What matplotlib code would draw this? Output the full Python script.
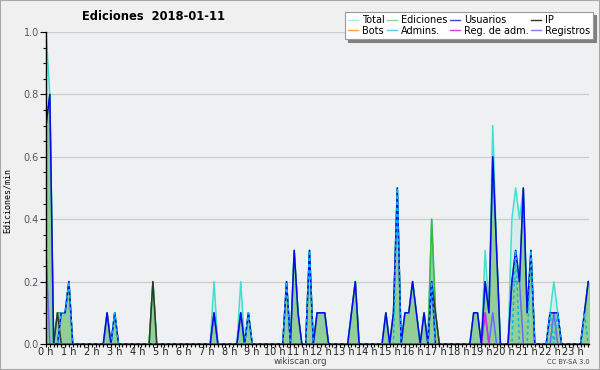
import matplotlib
matplotlib.use("Agg")
import matplotlib.pyplot as plt
import numpy as np
from matplotlib.lines import Line2D
from matplotlib.patches import Rectangle
from matplotlib.ticker import MultipleLocator, FixedLocator

# edits per minute, one value per 10-minute bin (12 values = 2 hours per row)
total = [
    1.0, 0.8, 0, 0.1, 0.1, 0.1, 0.2, 0, 0, 0, 0, 0,
    0, 0, 0, 0, 0.1, 0, 0.1, 0, 0, 0, 0, 0,
    0, 0, 0, 0, 0.2, 0, 0, 0, 0, 0, 0, 0,
    0, 0, 0, 0, 0, 0, 0, 0, 0.2, 0, 0, 0,
    0, 0, 0, 0.2, 0, 0.1, 0, 0, 0, 0, 0, 0,
    0, 0, 0, 0.2, 0, 0.3, 0.1, 0, 0, 0.3, 0, 0.1,
    0.1, 0.1, 0, 0, 0, 0, 0, 0, 0.1, 0.2, 0, 0,
    0, 0, 0, 0, 0, 0.1, 0, 0.1, 0.5, 0, 0.1, 0.1,
    0.2, 0.1, 0, 0.1, 0, 0.4, 0.1, 0, 0, 0, 0, 0,
    0, 0, 0, 0, 0.1, 0.1, 0, 0.3, 0.1, 0.7, 0.3, 0,
    0, 0, 0.4, 0.5, 0.4, 0.5, 0.1, 0.3, 0, 0, 0, 0,
    0.1, 0.2, 0.1, 0, 0, 0, 0, 0, 0, 0.1, 0.2, 0.2,
]
ediciones = [
    0.7, 0.8, 0, 0.1, 0.1, 0.1, 0.2, 0, 0, 0, 0, 0,
    0, 0, 0, 0, 0.1, 0, 0.1, 0, 0, 0, 0, 0,
    0, 0, 0, 0, 0.2, 0, 0, 0, 0, 0, 0, 0,
    0, 0, 0, 0, 0, 0, 0, 0, 0.1, 0, 0, 0,
    0, 0, 0, 0.1, 0, 0.1, 0, 0, 0, 0, 0, 0,
    0, 0, 0, 0.2, 0, 0.3, 0.1, 0, 0, 0.3, 0, 0.1,
    0.1, 0.1, 0, 0, 0, 0, 0, 0, 0.1, 0.2, 0, 0,
    0, 0, 0, 0, 0, 0.1, 0, 0.1, 0.5, 0, 0.1, 0.1,
    0.2, 0.1, 0, 0.1, 0, 0.4, 0.1, 0, 0, 0, 0, 0,
    0, 0, 0, 0, 0.1, 0.1, 0, 0.2, 0.1, 0.6, 0.3, 0,
    0, 0, 0.2, 0.3, 0.2, 0.5, 0.1, 0.3, 0, 0, 0, 0,
    0.1, 0.1, 0.1, 0, 0, 0, 0, 0, 0, 0.1, 0.2, 0.2,
]
usuarios = [
    0.7, 0.8, 0, 0, 0.1, 0.1, 0.2, 0, 0, 0, 0, 0,
    0, 0, 0, 0, 0.1, 0, 0.1, 0, 0, 0, 0, 0,
    0, 0, 0, 0, 0, 0, 0, 0, 0, 0, 0, 0,
    0, 0, 0, 0, 0, 0, 0, 0, 0.1, 0, 0, 0,
    0, 0, 0, 0.1, 0, 0.1, 0, 0, 0, 0, 0, 0,
    0, 0, 0, 0.2, 0, 0.3, 0.1, 0, 0, 0.3, 0, 0.1,
    0.1, 0.1, 0, 0, 0, 0, 0, 0, 0.1, 0.2, 0, 0,
    0, 0, 0, 0, 0, 0.1, 0, 0.1, 0.5, 0, 0.1, 0.1,
    0.2, 0.1, 0, 0.1, 0, 0.2, 0, 0, 0, 0, 0, 0,
    0, 0, 0, 0, 0.1, 0.1, 0, 0.2, 0.1, 0.6, 0.3, 0,
    0, 0, 0.2, 0.3, 0.2, 0.5, 0.1, 0.3, 0, 0, 0, 0,
    0.1, 0.1, 0.1, 0, 0, 0, 0, 0, 0, 0.1, 0.2, 0.2,
]
ip = [
    0, 0, 0, 0.1, 0, 0, 0, 0, 0, 0, 0, 0,
    0, 0, 0, 0, 0, 0, 0, 0, 0, 0, 0, 0,
    0, 0, 0, 0, 0.2, 0, 0, 0, 0, 0, 0, 0,
    0, 0, 0, 0, 0, 0, 0, 0, 0, 0, 0, 0,
    0, 0, 0, 0, 0, 0, 0, 0, 0, 0, 0, 0,
    0, 0, 0, 0, 0, 0, 0, 0, 0, 0, 0, 0,
    0, 0, 0, 0, 0, 0, 0, 0, 0, 0, 0, 0,
    0, 0, 0, 0, 0, 0, 0, 0, 0, 0, 0, 0,
    0, 0, 0, 0, 0, 0.2, 0.1, 0, 0, 0, 0, 0,
    0, 0, 0, 0, 0, 0, 0, 0, 0, 0, 0, 0,
    0, 0, 0, 0, 0, 0, 0, 0, 0, 0, 0, 0,
    0, 0, 0, 0, 0, 0, 0, 0, 0, 0, 0, 0,
]
admins = [
    0, 0, 0, 0, 0.1, 0.1, 0.2, 0, 0, 0, 0, 0,
    0, 0, 0, 0, 0, 0, 0.1, 0, 0, 0, 0, 0,
    0, 0, 0, 0, 0, 0, 0, 0, 0, 0, 0, 0,
    0, 0, 0, 0, 0, 0, 0, 0, 0, 0, 0, 0,
    0, 0, 0, 0, 0, 0.1, 0, 0, 0, 0, 0, 0,
    0, 0, 0, 0.2, 0, 0, 0, 0, 0, 0.3, 0, 0,
    0, 0, 0, 0, 0, 0, 0, 0, 0, 0, 0, 0,
    0, 0, 0, 0, 0, 0, 0, 0, 0.5, 0, 0, 0,
    0, 0, 0, 0, 0, 0.2, 0, 0, 0, 0, 0, 0,
    0, 0, 0, 0, 0, 0, 0, 0, 0, 0, 0, 0,
    0, 0, 0, 0.3, 0, 0, 0, 0.3, 0, 0, 0, 0,
    0.1, 0, 0.1, 0, 0, 0, 0, 0, 0, 0.1, 0, 0,
]
reg_adm = [0.0] * 144
reg_adm[115] = 0.1  # single entry around 19:10
registros = [
    0.3, 0, 0, 0, 0, 0, 0, 0, 0, 0, 0, 0,
    0, 0, 0, 0, 0, 0, 0, 0, 0, 0, 0, 0,
    0, 0, 0, 0, 0, 0, 0, 0, 0, 0, 0, 0,
    0, 0, 0, 0, 0, 0, 0, 0, 0.1, 0, 0, 0,
    0, 0, 0, 0.1, 0, 0, 0, 0, 0, 0, 0, 0,
    0, 0, 0, 0, 0, 0, 0, 0, 0, 0, 0, 0,
    0, 0, 0, 0, 0, 0, 0, 0, 0, 0, 0, 0,
    0, 0, 0, 0, 0, 0, 0, 0, 0, 0, 0, 0,
    0, 0, 0, 0, 0, 0, 0, 0, 0, 0, 0, 0,
    0, 0, 0, 0, 0, 0, 0, 0.1, 0, 0.1, 0, 0,
    0, 0, 0.2, 0.2, 0.2, 0, 0, 0, 0, 0, 0, 0,
    0, 0.1, 0, 0, 0, 0, 0, 0, 0, 0, 0, 0,
]
bots = [0.0] * 144

hour_labels = [f"{h} h" for h in range(24)]

############## PLOT ##############
t = np.arange(144) / 6.0  # hours

fig = plt.figure(figsize=(6, 3.7), dpi=100, facecolor="#f0f0f0")
fig.patches.append(Rectangle((0, 0), 1, 1, transform=fig.transFigure,
                             fill=False, edgecolor="#a8a8a8", lw=1.5))
ax = fig.add_axes([46 / 600, 26 / 370, 543 / 600, 312 / 370])
ax.set_facecolor("#eef0f2")

# areas
ax.fill_between(t, total, color="#40e0d0", alpha=0.13, lw=0, zorder=1)
ax.fill_between(t, ediciones, color="#8fcd91", alpha=0.95, lw=0, zorder=1.2)

lw = 1.1
ax.plot(t, total, color="#40e0d0", lw=lw, zorder=2)
ax.plot(t, ediciones, color="#3cb83c", lw=lw, zorder=2.1)
ax.plot(t, bots, color="#ffa040", lw=lw, zorder=2.2)
ax.plot(t, ip, color="#2d3a2d", lw=lw, zorder=2.3)
ax.plot(t, registros, color="#6a6af5", lw=lw, zorder=2.4)
ax.plot(t, reg_adm, color="#d030e0", lw=lw, zorder=2.5)
ax.plot(t, usuarios, color="#0808ee", lw=lw, zorder=2.6)
ax.plot(t, admins, color="#00b8ee", lw=lw, dashes=(2, 2), zorder=2.7)

ax.set_xlim(0, 23.7)
ax.set_ylim(0, 1.0)

ax.xaxis.set_major_locator(FixedLocator(range(24)))
ax.set_xticklabels(hour_labels)
ax.xaxis.set_minor_locator(MultipleLocator(1 / 6))
ax.yaxis.set_major_locator(MultipleLocator(0.2))
ax.yaxis.set_minor_locator(MultipleLocator(0.05))
ax.yaxis.set_major_formatter(plt.FuncFormatter(lambda v, p: f"{v:.1f}"))

ax.tick_params(axis="x", which="major", length=2.5, width=0.8, pad=0,
               labelsize=7, labelcolor="#222222")
ax.tick_params(axis="x", which="minor", length=2.0, width=0.8)
ax.tick_params(axis="y", which="major", length=4, width=0.8, pad=1,
               labelsize=7, labelcolor="#555555")
ax.tick_params(axis="y", which="minor", length=2.5, width=0.8)

ax.yaxis.grid(True, color="#cccccc", lw=0.9)
ax.set_axisbelow(True)
for side in ("top", "right"):
    ax.spines[side].set_visible(False)
for side in ("left", "bottom"):
    ax.spines[side].set_linewidth(1.0)
    ax.spines[side].set_zorder(10)

ax.set_ylabel("Ediciones/min", family="DejaVu Sans Mono", fontsize=6, labelpad=5)
ax.yaxis.set_label_coords(-0.063, 0.46)

fig.text(153 / 600, 1 - 17 / 370, "Ediciones  2018-01-11", ha="center", va="center",
         fontsize=8.3, fontweight="bold")
fig.text(300 / 600, 1 - 362 / 370, "wikiscan.org", ha="center", va="center",
         fontsize=6.2, color="#444444")
fig.text(590 / 600, 1 - 362 / 370, "CC BY-SA 3.0", ha="right", va="center",
         fontsize=4.8, color="#444444")

names = ["Total", "Bots", "Ediciones", "Admins.", "Usuarios", "Reg. de adm.", "IP", "Registros"]
colors = ["#b0ece4", "#ffa040", "#8fd48f", "#55cce0", "#4444dd", "#cc44dd", "#333333", "#8080ee"]
handles = [Line2D([], [], color=c, lw=1.0) for c in colors]
leg = ax.legend(handles, names, ncol=4, loc="upper right",
                bbox_to_anchor=(593 / 600, 1 - 12 / 370), bbox_transform=fig.transFigure,
                fontsize=7, frameon=True, fancybox=False, shadow={"color": "#808080", "alpha": 1},
                handlelength=1.0, handletextpad=0.4, columnspacing=0.3,
                labelspacing=0.1, borderpad=0.3, borderaxespad=0)
leg.get_frame().set_edgecolor("#999999")
leg.get_frame().set_linewidth(0.8)
leg.set_zorder(20)

fig.savefig("out.png", dpi=100, facecolor=fig.get_facecolor())
